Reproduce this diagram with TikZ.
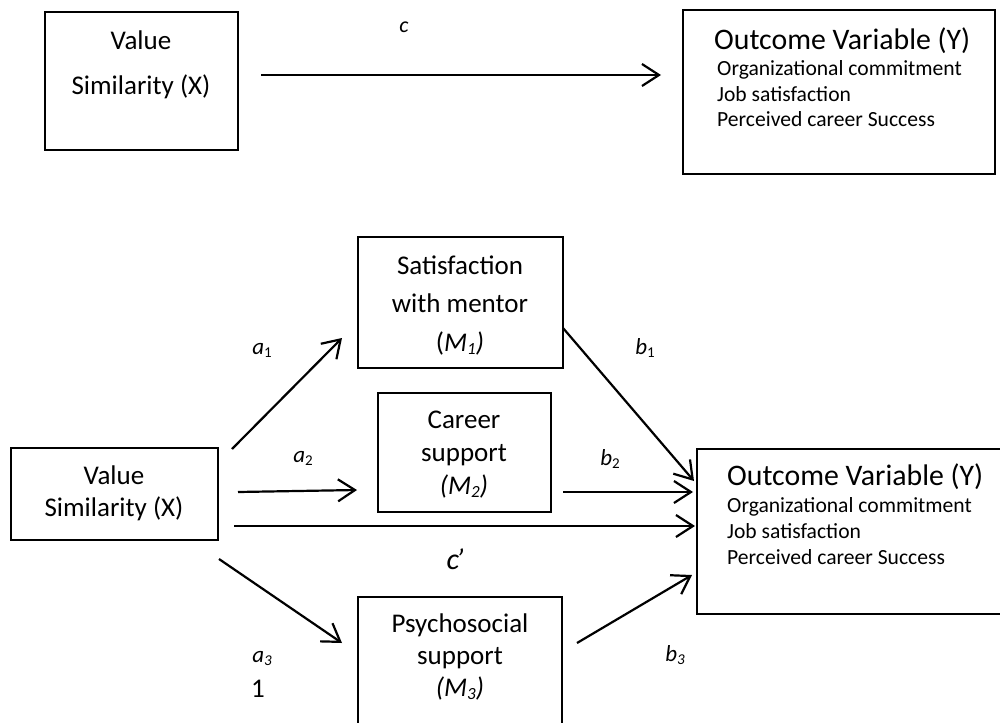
\documentclass[tikz,border=0pt]{standalone}
\usepackage{fontspec}
\setmainfont{Carlito}
\usetikzlibrary{arrows.meta}
\newcommand\subsc[2]{\raisebox{-0.3ex}{\fontsize{#1}{#1}\selectfont #2}}
\tikzset{
  box/.style={draw, line width=2.2pt, inner sep=0pt},
  arr/.style={line width=2.2pt, -{Straight Barb[length=17pt,width=22pt]}},
  maint/.style={inner sep=0pt, font=\fontsize{27}{32}\selectfont, text height=18pt, text depth=4pt},
  titlet/.style={inner sep=0pt, anchor=west, font=\fontsize{29.8}{34}\selectfont, text height=20pt, text depth=5pt},
  smallt/.style={inner sep=0pt, anchor=west, font=\fontsize{21.6}{25}\selectfont, text height=14pt, text depth=4pt},
  lab/.style={inner sep=0pt, font=\fontsize{23}{27}\selectfont\itshape, text height=16pt, text depth=4pt}
}
\begin{document}
\begin{tikzpicture}[x=1pt,y=-1pt]
\useasboundingbox (0,0) rectangle (1000,722);

% ---------- top model ----------
\node[box, minimum width=193pt, minimum height=138pt] (X1) at (141.5,81) {};
\node[maint] (X1a) at (141,43) {Value};
\node[maint] (X1b) at (141,88) {Similarity (X)};
\node[box, minimum width=312pt, minimum height=164pt] (Y1) at (839,92) {};
\node[titlet] (Y1t) at (714,42) {Outcome Variable (Y)};
\node[smallt] (Y1a) at (717,71) {Organizational commitment};
\node[smallt] (Y1b) at (717,97) {Job satisfaction};
\node[smallt] (Y1c) at (717,122) {Perceived career Success};
\coordinate (c0s) at (261,75);
\coordinate (c0e) at (661,75);
\draw[arr] (c0s) -- (c0e);
\node[lab, font=\fontsize{22}{26}\selectfont\itshape] (lc) at (404,27) {c};

% ---------- bottom model ----------
\node[box, minimum width=207pt, minimum height=92pt] (X2) at (114.5,494) {};
\node[maint] (X2a) at (114,477) {Value};
\node[maint] (X2b) at (114,509) {Similarity (X)};

\node[box, minimum width=205pt, minimum height=131pt] (M1) at (460.5,302.5) {};
\node[maint] (M1a) at (460,267) {Satisfaction};
\node[maint] (M1b) at (460,305) {with mentor};
\node[maint] (M1c) at (460,344) {(\textit{M\subsc{17}{1})}};

\node[box, minimum width=173pt, minimum height=119pt] (M2) at (464.5,452.5) {};
\node[maint] (M2a) at (464,421) {Career};
\node[maint] (M2b) at (464,454) {support};
\node[maint] (M2c) at (464,487) {\textit{(M\subsc{17}{2})}};

\node[box, minimum width=204pt, minimum height=130pt] (M3) at (460,662) {};
\node[maint] (M3a) at (460,625) {Psychosocial};
\node[maint] (M3b) at (460,657) {support};
\node[maint] (M3c) at (460,689) {\textit{(M\subsc{17}{3})}};

\node[box, minimum width=306pt, minimum height=165pt] (Y2) at (850,531.5) {};
\node[titlet] (Y2t) at (727,478) {Outcome Variable (Y)};
\node[smallt] (Y2a) at (727,507) {Organizational commitment};
\node[smallt] (Y2b) at (727,533) {Job satisfaction};
\node[smallt] (Y2c) at (727,559) {Perceived career Success};

% arrow ends
\coordinate (a1s) at (232,449); \coordinate (a1e) at (342,338);
\coordinate (a2s) at (238,492); \coordinate (a2e) at (357,490);
\coordinate (cps) at (234,526); \coordinate (cpe) at (695,526);
\coordinate (a3s) at (219,559); \coordinate (a3e) at (342,643);
\coordinate (b1s) at (563,328); \coordinate (b1e) at (694,481);
\coordinate (b2s) at (563,492); \coordinate (b2e) at (693,492);
\coordinate (b3s) at (577,643); \coordinate (b3e) at (692,575);
\draw[arr] (a1s) -- (a1e);
\draw[arr] (a2s) -- (a2e);
\draw[arr] (cps) -- (cpe);
\draw[arr] (a3s) -- (a3e);
\draw[arr] (b1s) -- (b1e);
\draw[arr] (b2s) -- (b2e);
\draw[arr] (b3s) -- (b3e);

% labels
\node[lab] (la1) at (262,348) {a\subsc{15}{\upshape 1}};
\node[lab] (la2) at (303,456) {a\subsc{15}{\upshape 2}};
\node[lab, font=\fontsize{30}{34}\selectfont\itshape] (lcp) at (455,563) {c\kern-3pt’};
\node[lab] (la3) at (262,656) {a\subsc{15}{3}};
\node[maint] (lone) at (258,690) {1};
\node[lab] (lb1) at (645,348) {b\subsc{15}{\upshape 1}};
\node[lab] (lb2) at (610,459) {b\subsc{15}{\upshape 2}};
\node[lab] (lb3) at (675,655) {b\subsc{15}{3}};
\end{tikzpicture}
\end{document}
